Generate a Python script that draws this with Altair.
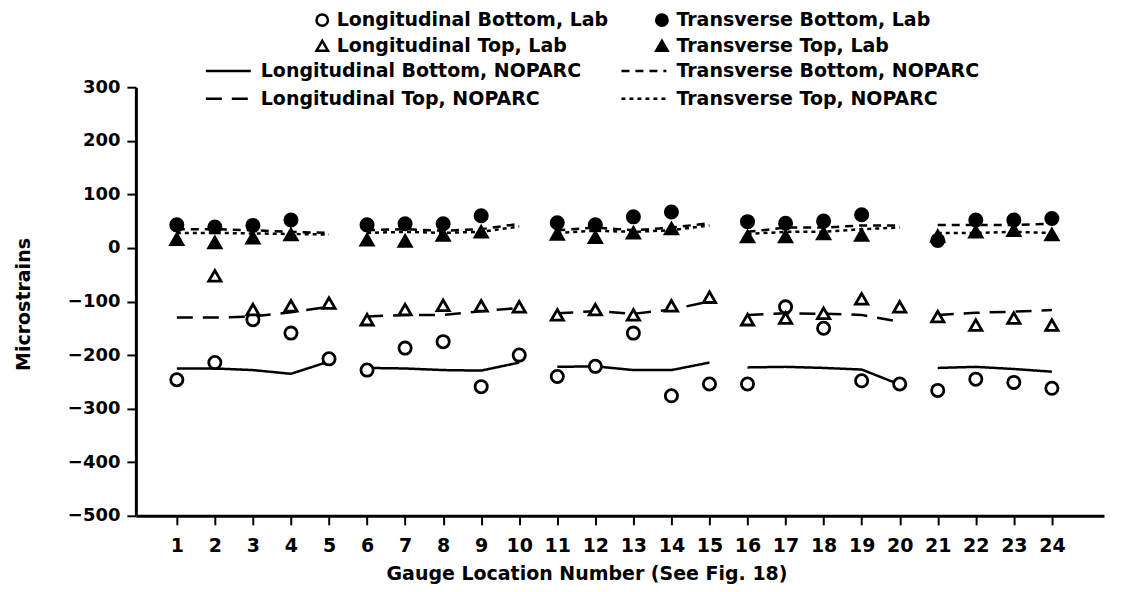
import altair as alt
import pandas as pd

gauges = list(range(1, 25))
segments = [1] * 5 + [2] * 5 + [3] * 5 + [4] * 5 + [5] * 4

lab_names = ["Longitudinal Bottom, Lab", "Transverse Bottom, Lab",
             "Longitudinal Top, Lab", "Transverse Top, Lab"]
nop_names = ["Longitudinal Bottom, NOPARC", "Transverse Bottom, NOPARC",
             "Longitudinal Top, NOPARC", "Transverse Top, NOPARC"]

long_bot_lab = [-246, -214, -134, -159, -207, -228, -187, -175, -259, -200, -240, -221,
                -159, -276, -254, -254, -110, -150, -248, -254, -266, -245, -251, -262]
trans_bot_lab = [43, 39, 42, 52, None, 43, 45, 45, 60, None, 47, 43,
                 58, 67, None, 49, 46, 50, 62, None, 14, 52, 52, 55]
long_top_lab = [None, -52, -115, -108, -103, -134, -115, -107, -108, -110, -125, -115,
                -125, -108, -92, -134, -131, -122, -95, -110, -128, -144, -131, -144]
trans_top_lab = [16, 10, 19, 25, None, 15, 13, 24, 30, None, 26, 20,
                 28, 36, None, 21, 21, 27, 24, None, 22, 30, 33, 25]

long_bot_nop = [-225, -225, -228, -235, -212, -224, -225, -228, -229, -214, -222, -221,
                -228, -228, -214, -223, -222, -224, -227, -255, -224, -222, -226, -231]
trans_bot_nop = [35, 35, 33, 30, 28, 33, 35, 32, 35, 45, 33, 38,
                 33, 38, 46, 30, 38, 38, 42, 42, 43, 43, 43, 45]
long_top_nop = [-130, -130, -128, -120, -110, -128, -125, -125, -118, -112, -122, -118,
                -123, -115, -100, -125, -122, -123, -125, -138, -125, -121, -119, -116]
trans_top_nop = [28, 28, 27, 26, 25, 28, 30, 28, 30, 40, 28, 32,
                 30, 33, 42, 26, 30, 30, 35, 38, 28, 28, 30, 28]

y_ticks = [-500, -400, -300, -200, -100, 0, 100, 200, 300]

rows = []
for name, vals in zip(lab_names, [long_bot_lab, trans_bot_lab, long_top_lab, trans_top_lab]):
    for g, s, v in zip(gauges, segments, vals):
        if v is not None:
            rows.append({"gauge": g, "seg": s, "value": v, "lab": name})
lab_df = pd.DataFrame(rows)

rows = []
for name, vals in zip(nop_names, [long_bot_nop, trans_bot_nop, long_top_nop, trans_top_nop]):
    for g, s, v in zip(gauges, segments, vals):
        rows.append({"gauge": g, "seg": s, "value": v, "nop": name})
nop_df = pd.DataFrame(rows)

FONT = "DejaVu Sans"

x_enc = alt.X(
    "gauge:Q",
    scale=alt.Scale(domain=[-0.076, 25.37], nice=False, zero=False),
    axis=alt.Axis(values=gauges, title="Gauge Location Number (See Fig. 18)",
                  tickSize=9, tickWidth=2, domainWidth=3, labelPadding=12,
                  labelFontSize=19, labelFont=FONT, labelFontWeight="bold",
                  labelFlush=False, labelOverlap=False, grid=False,
                  titleFont=FONT, titleFontSize=19, titleFontWeight="bold",
                  titleX=451, titleY=64, titleAlign="center",
                  titleBaseline="alphabetic", domainColor="black", tickColor="black",
                  labelColor="black", titleColor="black"),
)
y_enc = alt.Y(
    "value:Q",
    scale=alt.Scale(domain=[-500, 300], nice=False, zero=False),
    axis=alt.Axis(values=y_ticks, title="Microstrains", tickSize=9, tickWidth=2,
                  domainWidth=3, labelPadding=7, labelFontSize=18, labelFont=FONT,
                  labelFontWeight="bold", grid=False, titleFont=FONT, titleFontSize=19,
                  titleFontWeight="bold", titleX=-112, titleY=217, titleAngle=270,
                  titleAlign="center", titleBaseline="middle", domainColor="black",
                  tickColor="black", labelColor="black", titleColor="black"),
)

lab_legend = alt.Legend(orient="none", legendX=177, legendY=-77, columns=2,
                        direction="horizontal", title=None,
                        labelFont=FONT, labelFontSize=19, labelFontWeight="bold",
                        labelColor="black", labelLimit=700, labelOffset=5,
                        symbolStrokeColor="black", symbolStrokeWidth=2.5, symbolSize=130,
                        rowPadding=4, columnPadding=42)

nop_legend = alt.Legend(orient="none", legendX=82, legendY=-27, columns=2,
                        direction="horizontal", title=None,
                        labelFont=FONT, labelFontSize=19, labelFontWeight="bold",
                        labelColor="black", labelLimit=700, labelOffset=22,
                        symbolType="M-2.5,0H2.5", symbolStrokeColor="black",
                        symbolStrokeWidth=2.5, symbolSize=324,
                        rowPadding=7, columnPadding=35)

lines = alt.Chart(nop_df).mark_line(color="black", strokeWidth=2.5).encode(
    x=x_enc,
    y=y_enc,
    detail="seg:N",
    strokeDash=alt.StrokeDash(
        "nop:N",
        scale=alt.Scale(domain=nop_names, range=[[1, 0], [8, 6], [16, 10], [4, 4]]),
        sort=nop_names,
        legend=nop_legend,
    ),
)

points = alt.Chart(lab_df).mark_point(size=150, strokeWidth=2.8, opacity=1).encode(
    x=x_enc,
    y=y_enc,
    shape=alt.Shape("lab:N",
                    scale=alt.Scale(domain=lab_names,
                                    range=["circle", "circle", "triangle-up", "triangle-up"]),
                    sort=lab_names, legend=lab_legend),
    fill=alt.Fill("lab:N",
                  scale=alt.Scale(domain=lab_names,
                                  range=["white", "black", "white", "black"]),
                  sort=lab_names, legend=lab_legend),
    stroke=alt.Stroke("lab:N",
                      scale=alt.Scale(domain=lab_names,
                                      range=["black", "black", "black", "black"]),
                      sort=lab_names, legend=lab_legend),
)

chart = alt.layer(lines, points).properties(
    width=969, height=429,
    autosize=alt.AutoSizeParams(type="none"),
    padding={"left": 128, "top": 79, "right": 10, "bottom": 68},
    background="white",
).configure_view(stroke=None)

chart.save("out.html", embed_options={"renderer": "svg", "actions": False})
